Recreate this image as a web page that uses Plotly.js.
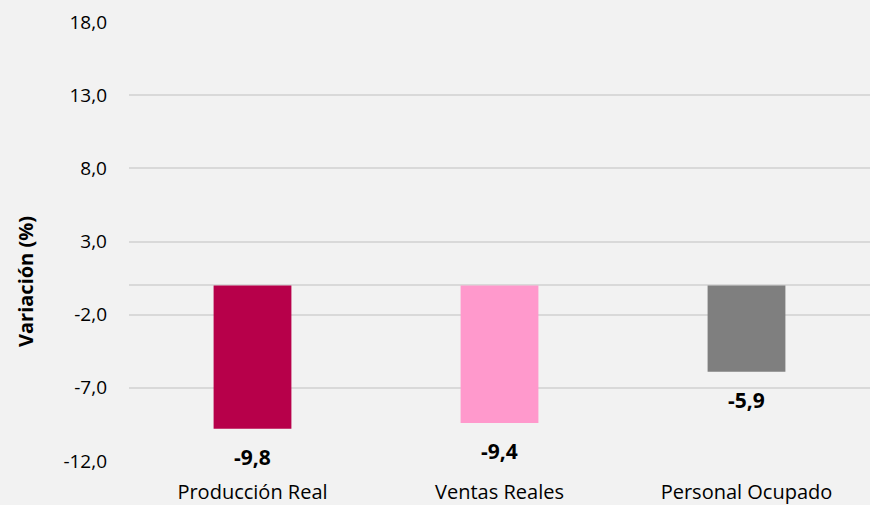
<!DOCTYPE html>
<html>
<head>
<meta charset="utf-8">
<script src="https://cdn.plot.ly/plotly-3.0.1.min.js"></script>
<style>html,body{margin:0;padding:0;background:#f2f2f2;}#chart{width:870px;height:505px;}</style>
</head>
<body>
<div id="chart"></div>
<script>
const categories = ["Producción Real", "Ventas Reales", "Personal Ocupado"];
const values = [-9.8, -9.4, -5.9];
const labels = ["-9,8", "-9,4", "-5,9"];
const colors = ["#B7004A", "#FF99CC", "#7F7F7F"];
const tickVals = [-12, -7, -2, 3, 8, 13, 18];
const tickText = ["-12,0", "-7,0", "-2,0", "3,0", "8,0", "13,0", "18,0"];

const FONT = "Open Sans, Noto Sans, sans-serif";

const trace = {
  type: "bar",
  x: categories,
  y: values,
  marker: {color: colors, line: {width: 0}},
  width: 0.315,
  hoverinfo: "none"
};

const annotations = categories.map((c, i) => ({
  x: c, y: values[i], xref: "x", yref: "y",
  text: "<b>" + labels[i] + "</b>",
  showarrow: false, yanchor: "middle", xanchor: "center",
  yshift: -28,
  font: {family: FONT, size: 21, color: "#000000"}
}));
annotations.push({
  xref: "paper", yref: "paper",
  x: -(129 - 25) / 741, y: (461 - 282) / 439,
  xanchor: "center", yanchor: "middle",
  text: "<b>Variación (%)</b>", textangle: -90, showarrow: false,
  font: {family: FONT, size: 20, color: "#000000"}
});

const layout = {
  width: 870, height: 505,
  margin: {l: 129, r: 0, t: 22, b: 44},
  paper_bgcolor: "#f2f2f2", plot_bgcolor: "#f2f2f2",
  showlegend: false,
  xaxis: {
    type: "category", range: [-0.5, 2.5],
    showgrid: false, zeroline: false, showline: false, ticks: "",
    ticklabelstandoff: 17,
    tickfont: {family: FONT, size: 20, color: "#000000"}
  },
  yaxis: {
    range: [-12, 18], tickvals: tickVals, ticktext: tickText,
    showgrid: true, gridcolor: "#D9D9D9", gridwidth: 2,
    zeroline: true, zerolinecolor: "#D9D9D9", zerolinewidth: 2,
    showline: false, ticks: "",
    ticklabelstandoff: 21,
    tickfont: {family: FONT, size: 19, color: "#000000"}
  },
  annotations: annotations
};

Plotly.newPlot("chart", [trace], layout, {displayModeBar: false, staticPlot: true});
</script>
</body>
</html>
